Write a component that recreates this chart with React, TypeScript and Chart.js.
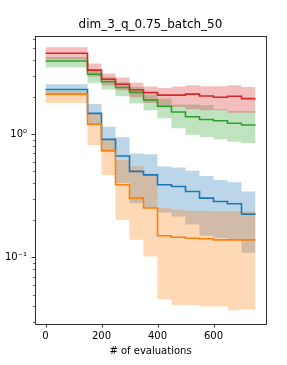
import React, { useEffect, useRef } from "react";
import { Chart, registerables } from "chart.js";
Chart.register(...registerables);

const titleText = "dim_3_q_0.75_batch_50";
const xLabelText = "# of evaluations";

// step edges (# of evaluations); each value holds until the next edge
const xSteps = [0, 150, 200, 250, 300, 350, 400, 450, 500, 550, 600, 650, 700, 750];

const redMean = [4.55, 3.32, 2.8, 2.55, 2.3, 2.18, 2.08, 2.08, 2.12, 2.05, 2.0, 2.04, 1.95];
const redUpper = [5.1, 3.76, 3.12, 2.89, 2.62, 2.45, 2.38, 2.45, 2.5, 2.46, 2.46, 2.5, 2.42];
const redLower = [4.05, 2.95, 2.5, 2.28, 2.0, 1.8, 1.65, 1.67, 1.6, 1.57, 1.57, 1.5, 1.5];

const greenMean = [3.94, 3.08, 2.67, 2.4, 2.19, 1.9, 1.69, 1.52, 1.39, 1.32, 1.29, 1.23, 1.19];
const greenUpper = [4.25, 3.36, 2.93, 2.65, 2.42, 2.1, 1.95, 1.75, 1.75, 1.72, 1.6, 1.55, 1.55];
const greenLower = [3.49, 2.62, 2.31, 2.04, 1.78, 1.57, 1.35, 1.12, 0.99, 0.95, 0.91, 0.87, 0.85];

const blueMean = [2.31, 1.48, 0.91, 0.667, 0.5, 0.468, 0.389, 0.377, 0.343, 0.303, 0.285, 0.273, 0.225];
const blueUpper = [2.55, 1.76, 1.15, 0.946, 0.7, 0.69, 0.547, 0.537, 0.507, 0.459, 0.426, 0.409, 0.343];
const blueLower = [2.08, 1.19, 0.72, 0.4, 0.276, 0.252, 0.232, 0.215, 0.185, 0.15, 0.144, 0.139, 0.109];

const orangeMean = [2.12, 1.21, 0.737, 0.389, 0.303, 0.252, 0.15, 0.146, 0.143, 0.142, 0.139, 0.139, 0.139];
const orangeUpper = [2.24, 1.48, 0.9, 0.62, 0.55, 0.48, 0.252, 0.244, 0.238, 0.238, 0.237, 0.237, 0.237];
const orangeLower = [1.8, 0.82, 0.468, 0.202, 0.139, 0.102, 0.0456, 0.0409, 0.041, 0.04, 0.04, 0.0373, 0.0378];

const xTicks = [0, 200, 400, 600];
const xTickLabels = ["0", "200", "400", "600"];
const yMajorTicks = [0.1, 1];
const yMajorLabels = ["10\u207B\u00B9", "10\u2070"];
const yMinorTicks = [0.03, 0.04, 0.05, 0.06, 0.07, 0.08, 0.09, 0.2, 0.3, 0.4, 0.5, 0.6, 0.7, 0.8, 0.9, 2, 3, 4, 5, 6];

const X_MIN = -37.5;
const X_MAX = 787.5;
const Y_MIN = 0.0288;
const Y_MAX = 6.29;

const FONT = "'DejaVu Sans', sans-serif";

// value i holds on [xSteps[i], xSteps[i+1]]; the last edge repeats the last value
function pts(vals: number[]) {
  return xSteps.map((x, i) => ({ x, y: vals[Math.min(i, vals.length - 1)] }));
}

// Chart.js paints higher dataset indexes first, so list top-most series first
const series = [
  { color: "#d62728", fill: "rgba(214,39,40,0.3)", mean: redMean, upper: redUpper, lower: redLower },
  { color: "#2ca02c", fill: "rgba(44,160,44,0.3)", mean: greenMean, upper: greenUpper, lower: greenLower },
  { color: "#ff7f0e", fill: "rgba(255,127,14,0.3)", mean: orangeMean, upper: orangeUpper, lower: orangeLower },
  { color: "#1f77b4", fill: "rgba(31,119,180,0.3)", mean: blueMean, upper: blueUpper, lower: blueLower },
];

const framePlugin = {
  id: "frame",
  afterDraw(chart: any) {
    const { ctx, chartArea: a, scales } = chart;
    ctx.save();
    const line = (x1: number, y1: number, x2: number, y2: number, w: number) => {
      ctx.lineWidth = w;
      ctx.beginPath();
      ctx.moveTo(x1, y1);
      ctx.lineTo(x2, y2);
      ctx.stroke();
    };
    ctx.strokeStyle = "#000";
    xTicks.forEach((v) => {
      const px = Math.round(scales.x.getPixelForValue(v)) + 0.5;
      line(px, a.bottom, px, a.bottom + 3.5, 0.8);
    });
    yMajorTicks.forEach((v) => {
      const py = Math.round(scales.y.getPixelForValue(v)) + 0.5;
      line(a.left - 3.5, py, a.left, py, 0.8);
    });
    yMinorTicks.forEach((v) => {
      const py = Math.round(scales.y.getPixelForValue(v)) + 0.5;
      line(a.left - 2, py, a.left, py, 0.6);
    });
    ctx.lineWidth = 0.8;
    ctx.strokeRect(Math.round(a.left) + 0.5, Math.round(a.top) + 0.5, Math.round(a.right - a.left), Math.round(a.bottom - a.top));
    ctx.fillStyle = "#000";
    ctx.textAlign = "center";
    ctx.textBaseline = "alphabetic";
    ctx.font = `12px ${FONT}`;
    ctx.fillText(titleText, (a.left + a.right) / 2, 28);
    ctx.font = `10px ${FONT}`;
    ctx.fillText(xLabelText, (a.left + a.right) / 2, 354);
    ctx.restore();
  },
};

export default function App() {
  const ref = useRef<HTMLCanvasElement>(null);
  useEffect(() => {
    const datasets: any[] = [];
    series.forEach((s) => {
      datasets.push({
        data: pts(s.mean),
        borderColor: s.color,
        borderWidth: 1.6,
        pointRadius: 0,
        stepped: "before",
        fill: false,
      });
    });
    series.forEach((s) => {
      const lowerIdx = datasets.length;
      datasets.push({
        data: pts(s.lower),
        borderWidth: 0,
        borderColor: "rgba(0,0,0,0)",
        pointRadius: 0,
        stepped: "before",
        fill: false,
      });
      datasets.push({
        data: pts(s.upper),
        borderWidth: 0,
        borderColor: "rgba(0,0,0,0)",
        backgroundColor: s.fill,
        pointRadius: 0,
        stepped: "before",
        fill: lowerIdx,
      });
    });
    const chart = new Chart(ref.current!, {
      type: "line",
      data: { datasets },
      options: {
        animation: false,
        responsive: false,
        events: [],
        layout: { padding: { top: 36, right: 21, left: 0, bottom: 0 } },
        plugins: {
          legend: { display: false },
          tooltip: { enabled: false },
          filler: { drawTime: "beforeDatasetsDraw", propagate: false },
        } as any,
        scales: {
          x: {
            type: "linear",
            min: X_MIN,
            max: X_MAX,
            grid: { display: false, drawTicks: false, tickLength: 0 },
            border: { display: false },
            afterBuildTicks: (sc: any) => {
              sc.ticks = xTicks.map((v) => ({ value: v }));
            },
            afterFit: (sc: any) => {
              sc.height = 41;
            },
            ticks: {
              padding: 6,
              maxRotation: 0,
              color: "#000",
              font: { family: FONT, size: 10 },
              callback: (v: any) => xTickLabels[xTicks.indexOf(Number(v))] ?? "",
            },
          },
          y: {
            type: "logarithmic",
            min: Y_MIN,
            max: Y_MAX,
            grid: { display: false, drawTicks: false, tickLength: 0 },
            border: { display: false },
            afterBuildTicks: (sc: any) => {
              sc.ticks = yMajorTicks.map((v) => ({ value: v }));
            },
            afterFit: (sc: any) => {
              sc.width = 35;
            },
            ticks: {
              padding: 8,
              color: "#000",
              font: { family: FONT, size: 10 },
              callback: (v: any) => {
                const i = yMajorTicks.findIndex((t) => Math.abs(t - Number(v)) < 1e-9);
                return i >= 0 ? yMajorLabels[i] : "";
              },
            },
          },
        },
      },
      plugins: [framePlugin],
    });
    return () => chart.destroy();
  }, []);
  return (
    <div style={{ position: "absolute", left: 0, top: 0, width: 287, height: 365, background: "#fff" }}>
      <canvas ref={ref} width={287} height={365} style={{ width: 287, height: 365 }} />
    </div>
  );
}
